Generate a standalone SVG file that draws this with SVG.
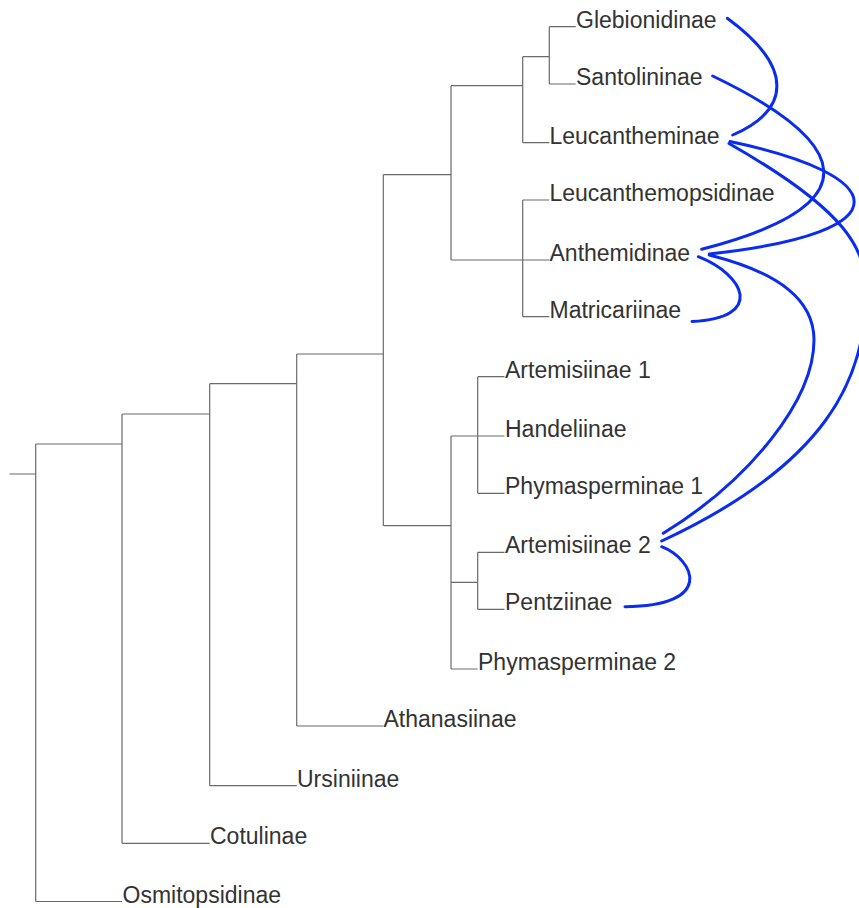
<svg xmlns="http://www.w3.org/2000/svg" width="859" height="908" viewBox="0 0 859 908">
<style>
.br{fill:none;stroke:#6a6a6a;stroke-width:1.2}
.ret{fill:none;stroke:#0a2cf0;stroke-width:3;stroke-linecap:round}
.lbl{font-family:"Liberation Sans",Arial,sans-serif;font-size:23px;fill:#333}
</style>
<rect width="859" height="908" fill="#fff"/>
<g id="connectors">
<g id="branches" class="br">
<path d="M9.5,474H35.7M35.7,444V901.5M35.7,444H122M35.7,901.5H122"/>
<path d="M122,414V843.3M122,414H209.7M122,843.3H209.7"/>
<path d="M209.7,383.7V785.7M209.7,383.7H296.7M209.7,785.7H296.7"/>
<path d="M296.7,354V726M296.7,354H383.3M296.7,726H383.3"/>
<path d="M383.3,174.7V525.7M383.3,174.7H451M383.3,525.7H451"/>
<path d="M451,85.7V260M451,85.7H522.7M451,260H522.7"/>
<path d="M522.7,56.7V142.7M522.7,56.7H549.3M522.7,142.7H549.3"/>
<path d="M549.3,26.7V84M549.3,26.7H575.7M549.3,84H575.7"/>
<path d="M522.7,200V316.7M522.7,200H549.3M522.7,260H549.3M522.7,316.7H549.3"/>
<path d="M451,436V669M451,436H477.7M451,582.3H477.7M451,669H477.7"/>
<path d="M477.7,376.7V493.3M477.7,376.7H504.5M477.7,436H504.5M477.7,493.3H504.5"/>
<path d="M477.7,552.3V609.3M477.7,552.3H504.5M477.7,609.3H504.5"/>
</g>
<g id="reticulations" class="ret">
<path d="M727.3,18.3C795,68 790,110 732.7,135"/>
<path d="M712.7,76C848,141 877,204 701.7,249.3"/>
<path d="M730,141.5C889,174.7 909,232 709.3,254"/>
<path d="M729,143.5C849,211.7 866,250 866,292C866,380 825,465 661.7,541"/>
<path d="M698.3,256.7C745,275 765,318 692,321.5"/>
<path d="M709.3,255C779.3,272.5 814,300 814,340C814,400 750,480 663.3,533.3"/>
<path d="M661.7,546.7C695,560 715,606 625,606.7"/>
</g>
</g>
<g id="Glebionidinae"><text class="lbl" x="576" y="27.5">Glebionidinae</text></g>
<g id="Santolininae"><text class="lbl" x="576" y="85">Santolininae</text></g>
<g id="Leucantheminae"><text class="lbl" x="549.5" y="143.5">Leucantheminae</text></g>
<g id="Leucanthemopsidinae"><text class="lbl" x="549.5" y="201">Leucanthemopsidinae</text></g>
<g id="Anthemidinae"><text class="lbl" x="549.5" y="261">Anthemidinae</text></g>
<g id="Matricariinae"><text class="lbl" x="549.5" y="317.5">Matricariinae</text></g>
<g id="Artemisiinae1"><text class="lbl" x="505" y="377.5">Artemisiinae 1</text></g>
<g id="Handeliinae"><text class="lbl" x="505" y="437">Handeliinae</text></g>
<g id="Phymasperminae1"><text class="lbl" x="505" y="494">Phymasperminae 1</text></g>
<g id="Artemisiinae2"><text class="lbl" x="505" y="553">Artemisiinae 2</text></g>
<g id="Pentziinae"><text class="lbl" x="505" y="610">Pentziinae</text></g>
<g id="Phymasperminae2"><text class="lbl" x="478" y="670">Phymasperminae 2</text></g>
<g id="Athanasiinae"><text class="lbl" x="383.5" y="727">Athanasiinae</text></g>
<g id="Ursiniinae"><text class="lbl" x="297" y="786.5">Ursiniinae</text></g>
<g id="Cotulinae"><text class="lbl" x="210" y="844">Cotulinae</text></g>
<g id="Osmitopsidinae"><text class="lbl" x="122.5" y="902.5">Osmitopsidinae</text></g>
</svg>
